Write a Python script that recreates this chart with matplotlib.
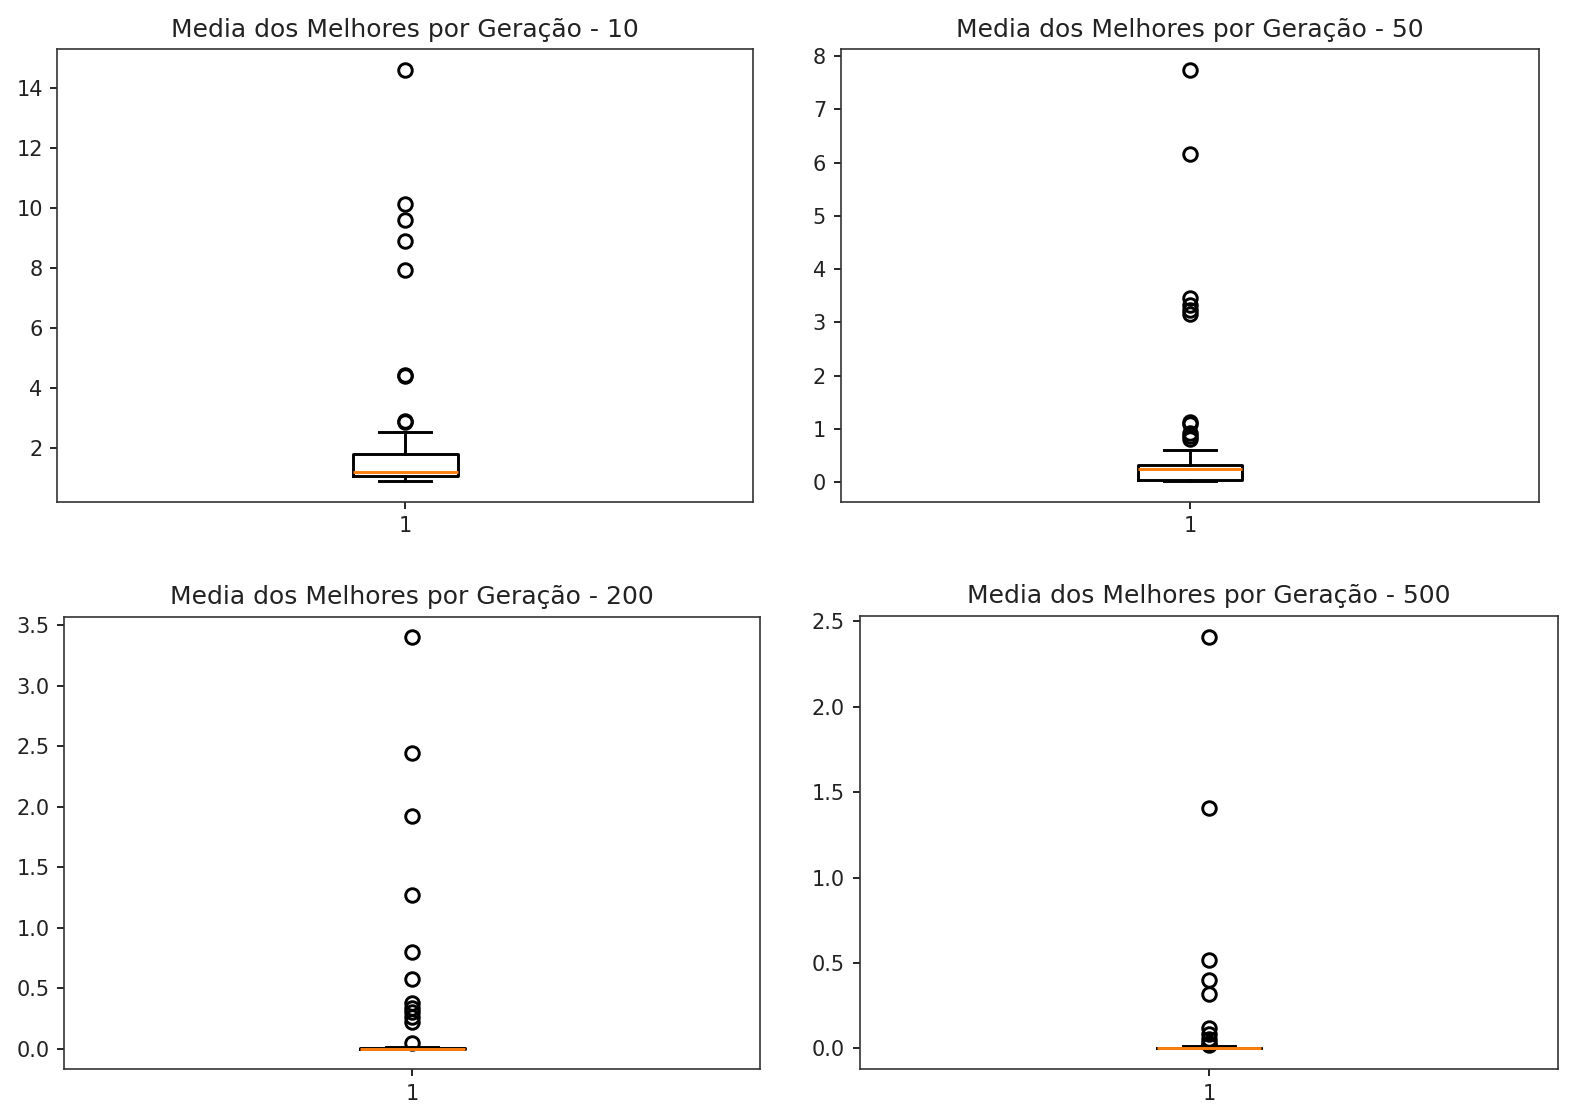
import matplotlib
matplotlib.use("Agg")
import matplotlib.pyplot as plt

W, H, DPI = 1573, 1119, 150

# generations shown in each panel
geracoes = [10, 50, 200, 500]

# box statistics (one entry per panel)
medianas = [1.19, 0.24, 0.0, 0.0]
q1s = [1.04, 0.045, 0.0, 0.0]
q3s = [1.78, 0.31, 0.004, 0.004]
whis_baixo = [0.88, 0.015, 0.0, 0.0]
whis_alto = [2.52, 0.60, 0.012, 0.012]

outliers_10 = [2.86, 2.88, 4.39, 4.41, 7.92, 8.89, 9.59, 10.12, 14.6]
outliers_50 = [0.80, 0.86, 0.92, 1.08, 1.13, 3.16, 3.24, 3.33, 3.45, 6.17, 7.75]
outliers_200 = [0.046, 0.22, 0.26, 0.30, 0.34, 0.38, 0.58, 0.80, 1.27, 1.92, 2.44, 3.40]
outliers_500 = [0.02, 0.03, 0.055, 0.085, 0.12, 0.316, 0.40, 0.515, 1.405, 2.41]
outliers = [outliers_10, outliers_50, outliers_200, outliers_500]

# axes boxes in pixels: left, top, right, bottom
caixas = [
    (57.3, 49.0, 753.4, 501.7),
    (840.7, 49.0, 1539.3, 501.7),
    (64.3, 616.7, 760.3, 1069.3),
    (859.6, 616.0, 1558.3, 1069.0),
]

plt.rcParams["axes.edgecolor"] = "#333333"
plt.rcParams["text.color"] = "#222222"
plt.rcParams["xtick.labelcolor"] = "#222222"
plt.rcParams["ytick.labelcolor"] = "#222222"

fig = plt.figure(figsize=(W / DPI, H / DPI), dpi=DPI)

lw = 1.4
for i, g in enumerate(geracoes):
    l, t, r, b = caixas[i]
    ax = fig.add_axes([l / W, 1 - b / H, (r - l) / W, (b - t) / H])
    stats = {
        "med": medianas[i],
        "q1": q1s[i],
        "q3": q3s[i],
        "whislo": whis_baixo[i],
        "whishi": whis_alto[i],
        "fliers": outliers[i],
        "label": "1",
    }
    ax.bxp(
        [stats],
        boxprops=dict(linewidth=lw),
        whiskerprops=dict(linewidth=lw),
        capprops=dict(linewidth=lw),
        medianprops=dict(linewidth=lw),
        flierprops=dict(markeredgewidth=lw, markersize=6.5),
    )
    ax.set_title(f"Media dos Melhores por Geração - {g}")

fig.savefig("out.png", dpi=DPI)
